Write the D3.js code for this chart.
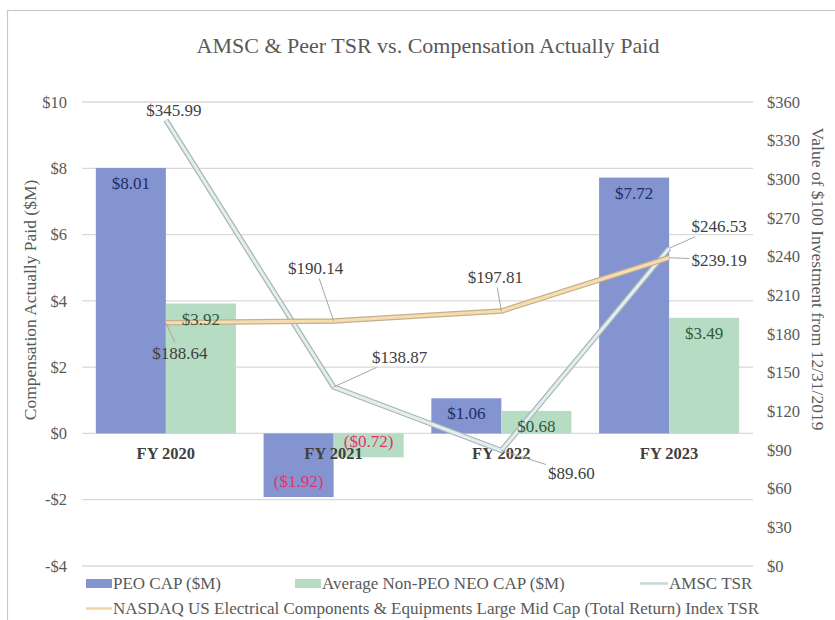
<!DOCTYPE html>
<html>
<head>
<meta charset="utf-8">
<script src="https://cdn.jsdelivr.net/npm/d3@7"></script>
<style>
  body { margin: 0; background: #fff; }
  text { font-family: "Liberation Serif", "Times New Roman", serif; }
</style>
</head>
<body>
<script>
// chart values
var years = ["FY 2020", "FY 2021", "FY 2022", "FY 2023"];
var peoCap = [8.01, -1.92, 1.06, 7.72];
var neoCap = [3.92, -0.72, 0.68, 3.49];
var amscTsr = [345.99, 138.87, 89.60, 246.53];
var nasdaqTsr = [188.64, 190.14, 197.81, 239.19];
var leftTicks = [-4, -2, 0, 2, 4, 6, 8, 10];
var rightTicks = [0, 30, 60, 90, 120, 150, 180, 210, 240, 270, 300, 330, 360];

// label placement for the line points (dx, dy from the point)
var amscOffsets = [[8, -10], [66, -30], [70, 22], [50, -22]];
var nasdaqOffsets = [[14, 30], [-18, -53], [-6, -34], [50, 2]];

var W = 835, H = 620;
var svg = d3.select("body").append("svg")
  .attr("width", W)
  .attr("height", H);

// outer frame (only left + top visible in the reference)
svg.append("rect")
  .attr("x", 7.5).attr("y", 10.5)
  .attr("width", 900).attr("height", 700)
  .attr("fill", "none").attr("stroke", "#c8c8c8").attr("stroke-width", 1.2);

var x0 = d3.scaleBand().domain(years).range([82, 753])
  .paddingInner(0.165).paddingOuter(0.0825);
var x1 = d3.scaleBand().domain(["peo", "neo"]).range([0, x0.bandwidth()]);
var yL = d3.scaleLinear().domain([-4, 10]).range([566, 102]);
var yR = d3.scaleLinear().domain([0, 360]).range([566, 102]);

var money = function(v) { return v < 0 ? "-$" + Math.abs(v) : "$" + v; };

// gridlines
svg.append("g").selectAll("line").data(leftTicks).join("line")
  .attr("x1", 82).attr("x2", 753)
  .attr("y1", d => yL(d)).attr("y2", d => yL(d))
  .attr("stroke", "#d9d9d9").attr("stroke-width", 1.3);

// axes
var axL = svg.append("g").attr("transform", "translate(82,0)")
  .call(d3.axisLeft(yL).tickValues(leftTicks).tickFormat(money).tickSize(0).tickPadding(15));
var axR = svg.append("g").attr("transform", "translate(753,0)")
  .call(d3.axisRight(yR).tickValues(rightTicks).tickFormat(d => "$" + d).tickSize(0).tickPadding(14));
[axL, axR].forEach(function(a) {
  a.attr("font-family", null);
  a.select(".domain").remove();
  a.selectAll("text").attr("font-size", 16.5).attr("fill", "#595959");
});

// title + axis titles
svg.append("text").attr("x", 428).attr("y", 53).attr("text-anchor", "middle")
  .attr("font-size", 22).attr("fill", "#595959")
  .text("AMSC & Peer TSR vs. Compensation Actually Paid");
svg.append("text").attr("transform", "translate(36,300) rotate(-90)")
  .attr("text-anchor", "middle").attr("font-size", 17.5).attr("fill", "#595959")
  .text("Compensation Actually Paid ($M)");
svg.append("text").attr("transform", "translate(812,279) rotate(90)")
  .attr("text-anchor", "middle").attr("font-size", 17.5).attr("fill", "#595959")
  .text("Value of $100 Investment from 12/31/2019");

// bars
var barData = [];
years.forEach(function(y, i) {
  barData.push({ year: y, key: "peo", v: peoCap[i] });
  barData.push({ year: y, key: "neo", v: neoCap[i] });
});
var barColor = { peo: "#8394d1", neo: "#b7dcc4" };
var labColor = { peo: "#1f2d66", neo: "#2e5a3c" };

svg.append("g").selectAll("rect").data(barData).join("rect")
  .attr("x", d => x0(d.year) + x1(d.key))
  .attr("width", x1.bandwidth())
  .attr("y", d => yL(Math.max(0, d.v)))
  .attr("height", d => Math.abs(yL(d.v) - yL(0)))
  .attr("fill", d => barColor[d.key]);

// category labels
svg.append("g").selectAll("text").data(years).join("text")
  .attr("x", d => x0(d) + x0.bandwidth() / 2)
  .attr("y", yL(0) + 26)
  .attr("text-anchor", "middle")
  .attr("font-size", 16.5).attr("font-weight", "bold").attr("fill", "#404040")
  .text(d => d);

// lines
var cx = (d, i) => x0(years[i]) + x0.bandwidth() / 2;
var line = d3.line().x(cx).y(d => yR(d));

function drawSeries(vals, outer, inner) {
  svg.append("path").datum(vals).attr("d", line)
    .attr("fill", "none").attr("stroke", outer).attr("stroke-width", 5.5)
    .attr("stroke-linejoin", "round");
  svg.append("path").datum(vals).attr("d", line)
    .attr("fill", "none").attr("stroke", inner).attr("stroke-width", 3)
    .attr("stroke-linejoin", "round");
}
drawSeries(amscTsr, "#a9b7b7", "#e3eeee");
drawSeries(nasdaqTsr, "#c2b08e", "#f6dcae");

// bar value labels
svg.append("g").selectAll("text").data(barData).join("text")
  .attr("x", d => x0(d.year) + x1(d.key) + x1.bandwidth() / 2)
  .attr("y", d => d.v >= 0 ? yL(d.v) + 21 : yL(d.v) - 10)
  .attr("text-anchor", "middle").attr("font-size", 17)
  .attr("fill", d => d.v < 0 ? "#e0336a" : labColor[d.key])
  .text(d => d.v < 0 ? "($" + Math.abs(d.v).toFixed(2) + ")" : "$" + d.v.toFixed(2));

// line value labels with leader lines
function lineLabels(vals, offs) {
  var g = svg.append("g");
  vals.forEach(function(v, i) {
    var px = cx(v, i), py = yR(v);
    var lx = px + offs[i][0], ly = py + offs[i][1];
    var t = g.append("text").attr("x", lx).attr("y", ly + 6)
      .attr("text-anchor", "middle").attr("font-size", 17).attr("fill", "#404040")
      .text("$" + v.toFixed(2));
    var b = t.node().getBBox();
    var hw = b.width / 2 + 2, hh = b.height / 2 + 1;
    var dx = px - lx, dy = py - ly;
    var s = Math.min(Math.abs(dx) > 0 ? hw / Math.abs(dx) : Infinity,
                     Math.abs(dy) > 0 ? hh / Math.abs(dy) : Infinity);
    if (s < 0.8) {
      g.insert("line", "text")
        .attr("x1", lx + dx * s).attr("y1", ly + dy * s)
        .attr("x2", px).attr("y2", py)
        .attr("stroke", "#a6a6a6").attr("stroke-width", 1);
    }
  });
}
lineLabels(amscTsr, amscOffsets);
lineLabels(nasdaqTsr, nasdaqOffsets);

// legend
var lg = svg.append("g").attr("font-size", 17).attr("fill", "#595959");
lg.append("rect").attr("x", 86).attr("y", 579).attr("width", 26).attr("height", 9).attr("fill", barColor.peo);
lg.append("text").attr("x", 113).attr("y", 589).text("PEO CAP ($M)");
lg.append("rect").attr("x", 295).attr("y", 579).attr("width", 26).attr("height", 9).attr("fill", barColor.neo);
lg.append("text").attr("x", 322).attr("y", 589).text("Average Non-PEO NEO CAP ($M)");
lg.append("line").attr("x1", 640).attr("x2", 668).attr("y1", 583.5).attr("y2", 583.5)
  .attr("stroke", "#c9d6d6").attr("stroke-width", 2.5);
lg.append("text").attr("x", 669).attr("y", 589).text("AMSC TSR");
lg.append("line").attr("x1", 86).attr("x2", 112).attr("y1", 608.5).attr("y2", 608.5)
  .attr("stroke", "#efd2a8").attr("stroke-width", 2.5);
lg.append("text").attr("x", 113).attr("y", 614)
  .text("NASDAQ US Electrical Components & Equipments Large Mid Cap (Total Return) Index TSR");
</script>
</body>
</html>
